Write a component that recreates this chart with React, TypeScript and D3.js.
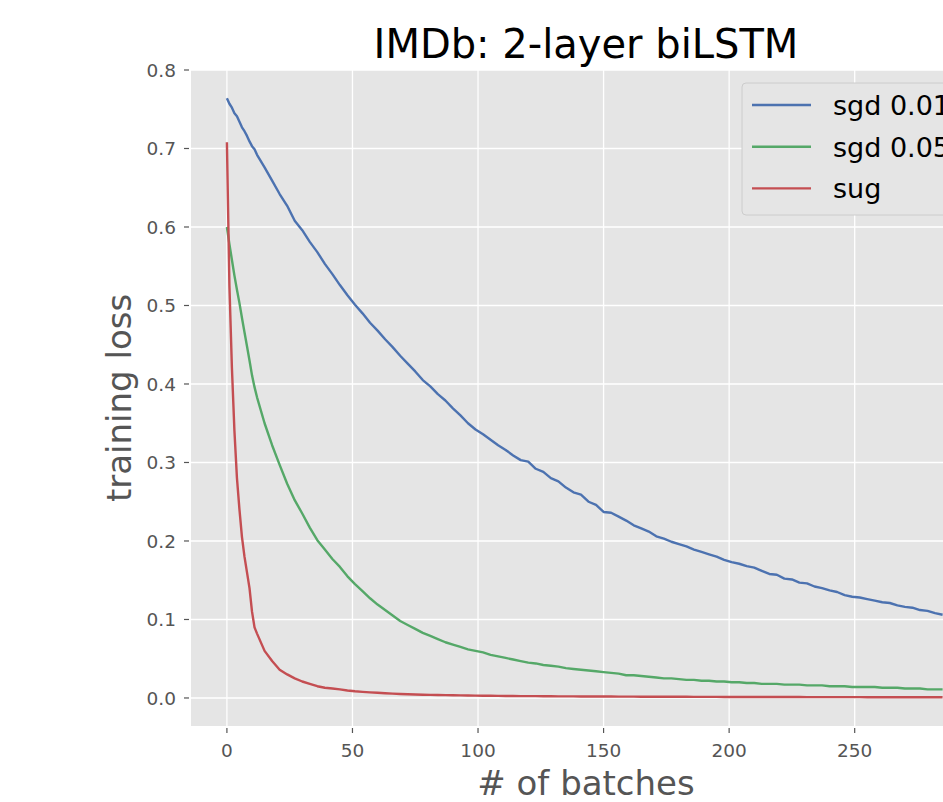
import * as d3 from 'd3';
import React, { useEffect, useRef } from 'react';

// batch index: every batch for the first 12, then every 3rd batch
const batches: number[] = d3.range(0, 12).concat(d3.range(12, 286, 3));

const sgd001: number[] = [
  0.764, 0.757, 0.752, 0.745, 0.741, 0.734, 0.727, 0.722, 0.716, 0.709, 0.703, 0.699,
  0.692, 0.676, 0.659, 0.642, 0.627, 0.608, 0.596, 0.581, 0.568, 0.553,
  0.540, 0.526, 0.513, 0.501, 0.490, 0.478, 0.468, 0.457, 0.447, 0.436,
  0.426, 0.416, 0.405, 0.397, 0.387, 0.379, 0.369, 0.360, 0.350, 0.342,
  0.336, 0.329, 0.322, 0.316, 0.309, 0.303, 0.301, 0.292, 0.288, 0.280,
  0.276, 0.268, 0.262, 0.259, 0.250, 0.246, 0.237, 0.236, 0.231, 0.226,
  0.220, 0.216, 0.212, 0.206, 0.203, 0.199, 0.196, 0.193, 0.189, 0.186,
  0.183, 0.180, 0.176, 0.173, 0.171, 0.168, 0.166, 0.162, 0.158, 0.157,
  0.152, 0.151, 0.147, 0.146, 0.142, 0.140, 0.137, 0.135, 0.131, 0.129,
  0.128, 0.126, 0.124, 0.122, 0.121, 0.118, 0.116, 0.115, 0.112, 0.111,
  0.108, 0.106
];

const sgd005: number[] = [
  0.600, 0.578, 0.558, 0.538, 0.520, 0.503, 0.484, 0.466, 0.448, 0.430, 0.411, 0.396,
  0.383, 0.350, 0.322, 0.297, 0.273, 0.252, 0.235, 0.217, 0.201, 0.189,
  0.177, 0.167, 0.155, 0.145, 0.136, 0.127, 0.119, 0.112, 0.105, 0.098,
  0.093, 0.088, 0.083, 0.079, 0.075, 0.071, 0.068, 0.065, 0.062, 0.060,
  0.058, 0.055, 0.053, 0.051, 0.049, 0.047, 0.045, 0.044, 0.042, 0.041,
  0.040, 0.038, 0.037, 0.036, 0.035, 0.034, 0.033, 0.032, 0.031, 0.029,
  0.029, 0.028, 0.027, 0.026, 0.025, 0.025, 0.024, 0.023, 0.023, 0.022,
  0.022, 0.021, 0.021, 0.020, 0.020, 0.019, 0.019, 0.018, 0.018, 0.018,
  0.017, 0.017, 0.017, 0.016, 0.016, 0.016, 0.015, 0.015, 0.015, 0.014,
  0.014, 0.014, 0.014, 0.013, 0.013, 0.013, 0.012, 0.012, 0.012, 0.011,
  0.011, 0.011
];

const sug: number[] = [
  0.708, 0.525, 0.420, 0.340, 0.280, 0.240, 0.205, 0.180, 0.160, 0.140, 0.110, 0.090,
  0.082, 0.060, 0.047, 0.036, 0.030, 0.025, 0.021, 0.018, 0.015, 0.013,
  0.012, 0.011, 0.0095, 0.0085, 0.0078, 0.0072, 0.0066, 0.0060, 0.0055, 0.0050,
  0.0047, 0.0044, 0.0042, 0.0040, 0.0038, 0.0036, 0.0034, 0.0033, 0.0032, 0.0030,
  0.0029, 0.0028, 0.0027, 0.0026, 0.0025, 0.0024, 0.0024, 0.0023, 0.0022, 0.0022,
  0.0021, 0.0020, 0.0020, 0.0019, 0.0019, 0.0018, 0.0018, 0.0018, 0.0017, 0.0017,
  0.0017, 0.0016, 0.0016, 0.0016, 0.0015, 0.0015, 0.0015, 0.0015, 0.0014, 0.0014,
  0.0014, 0.0014, 0.0013, 0.0013, 0.0013, 0.0013, 0.0013, 0.0012, 0.0012, 0.0012,
  0.0012, 0.0012, 0.0012, 0.0011, 0.0011, 0.0011, 0.0011, 0.0011, 0.0011, 0.0011,
  0.0011, 0.0010, 0.0010, 0.0010, 0.0010, 0.0010, 0.0010, 0.0010, 0.0010, 0.0010,
  0.0010, 0.0010
];

const seriesNames = ['sgd 0.01', 'sgd 0.05', 'sug'];
const seriesValues = [sgd001, sgd005, sug];
const seriesColors = ['#4C72B0', '#55A868', '#C44E52'];

const xTicks = [0, 50, 100, 150, 200, 250];
const yTicks = [0.0, 0.1, 0.2, 0.3, 0.4, 0.5, 0.6, 0.7, 0.8];

const App = (): JSX.Element => {
  const ref = useRef<SVGSVGElement>(null);

  useEffect(() => {
    const width = 943;
    const height = 802;
    const font = '"DejaVu Sans", sans-serif';

    const svg = d3.select(ref.current).attr('width', width).attr('height', height);
    svg.selectAll('*').remove();

    const left = 191;
    const right = 981;
    const top = 70;
    const bottom = 726;

    const x = d3.scaleLinear().domain([-14.3, 300.3]).range([left, right]);
    const y = d3.scaleLinear().domain([-0.0357, 0.8]).range([bottom, top]);

    svg.append('rect').attr('width', width).attr('height', height).attr('fill', '#fff');

    svg
      .append('defs')
      .append('clipPath')
      .attr('id', 'plot-clip')
      .append('rect')
      .attr('x', left)
      .attr('y', top)
      .attr('width', right - left)
      .attr('height', bottom - top);

    svg
      .append('rect')
      .attr('x', left)
      .attr('y', top)
      .attr('width', right - left)
      .attr('height', bottom - top)
      .attr('fill', '#E5E5E5');

    const grid = svg.append('g').attr('stroke', '#fff').attr('stroke-width', 1.3);
    xTicks.forEach((t) => {
      grid.append('line').attr('x1', x(t)).attr('x2', x(t)).attr('y1', top).attr('y2', bottom);
    });
    yTicks.forEach((t) => {
      grid.append('line').attr('x1', left).attr('x2', right).attr('y1', y(t)).attr('y2', y(t));
    });

    // ticks and labels
    const axes = svg.append('g').attr('font-family', font).attr('font-size', 18.5).attr('fill', '#555');
    xTicks.forEach((t) => {
      axes
        .append('line')
        .attr('x1', x(t))
        .attr('x2', x(t))
        .attr('y1', bottom + 2)
        .attr('y2', bottom + 7)
        .attr('stroke', '#555')
        .attr('stroke-width', 1.2);
      axes
        .append('text')
        .attr('x', x(t))
        .attr('y', bottom + 31)
        .attr('text-anchor', 'middle')
        .text(d3.format('d')(t));
    });
    yTicks.forEach((t) => {
      axes
        .append('line')
        .attr('x1', left - 2)
        .attr('x2', left - 7)
        .attr('y1', y(t))
        .attr('y2', y(t))
        .attr('stroke', '#555')
        .attr('stroke-width', 1.2);
      axes
        .append('text')
        .attr('x', left - 15)
        .attr('y', y(t))
        .attr('dy', '0.36em')
        .attr('text-anchor', 'end')
        .text(d3.format('.1f')(t));
    });

    // series
    const line = d3
      .line<number>()
      .x((_, i) => x(batches[i]))
      .y((d) => y(d));

    const lines = svg.append('g').attr('clip-path', 'url(#plot-clip)');
    seriesValues.forEach((vals, i) => {
      lines
        .append('path')
        .attr('d', line(vals))
        .attr('fill', 'none')
        .attr('stroke', seriesColors[i])
        .attr('stroke-width', 2.4)
        .attr('stroke-linejoin', 'round');
    });

    // legend
    const legend = svg.append('g').attr('font-family', font).attr('font-size', 27);
    legend
      .append('rect')
      .attr('x', 742)
      .attr('y', 83)
      .attr('width', 400)
      .attr('height', 132)
      .attr('rx', 4)
      .attr('fill', '#E5E5E5')
      .attr('stroke', '#CCCCCC')
      .attr('stroke-width', 1);
    seriesNames.forEach((name, i) => {
      const ly = 105 + i * 41.7;
      legend
        .append('line')
        .attr('x1', 752)
        .attr('x2', 811)
        .attr('y1', ly)
        .attr('y2', ly)
        .attr('stroke', seriesColors[i])
        .attr('stroke-width', 2.4);
      legend
        .append('text')
        .attr('x', 833)
        .attr('y', ly + 10)
        .attr('fill', '#000')
        .text(name);
    });

    // titles
    svg
      .append('text')
      .attr('x', (left + right) / 2)
      .attr('y', 58)
      .attr('text-anchor', 'middle')
      .attr('font-family', font)
      .attr('font-size', 40)
      .attr('fill', '#000')
      .text('IMDb: 2-layer biLSTM');

    svg
      .append('text')
      .attr('x', (left + right) / 2)
      .attr('y', 795)
      .attr('text-anchor', 'middle')
      .attr('font-family', font)
      .attr('font-size', 34)
      .attr('fill', '#555')
      .text('# of batches');

    svg
      .append('text')
      .attr('transform', `translate(131, ${(top + bottom) / 2}) rotate(-90)`)
      .attr('text-anchor', 'middle')
      .attr('font-family', font)
      .attr('font-size', 34)
      .attr('fill', '#555')
      .text('training loss');
  }, []);

  return <svg ref={ref} style={{ position: 'fixed', left: 0, top: 0 }} />;
};

export default App;
